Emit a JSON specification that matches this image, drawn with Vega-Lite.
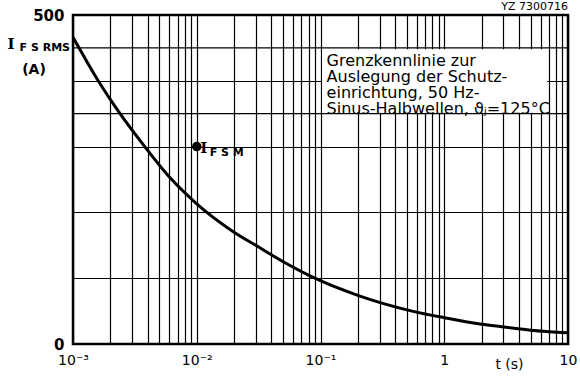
{
  "$schema": "https://vega.github.io/schema/vega-lite/v6.json",
  "width": 495,
  "height": 329,
  "autosize": {"type": "none"},
  "padding": {"left": 73, "top": 15, "right": 12, "bottom": 34},
  "background": "white",
  "config": {
    "view": {"stroke": "black", "strokeWidth": 2.5},
    "font": "DejaVu Sans",
    "axis": {"gridColor": "black", "gridOpacity": 1, "gridWidth": 1.2, "ticks": false, "domain": false,
             "labelColor": "black", "labelFont": "DejaVu Sans", "labelFontSize": 14, "labelFontWeight": "normal"},
    "text": {"color": "black", "clip": false}
  },
  "datasets": {
    "curve": [
      {"t": 0.001, "i": 466},
      {"t": 0.0012, "i": 440},
      {"t": 0.0016, "i": 400},
      {"t": 0.0024, "i": 350},
      {"t": 0.0038, "i": 300},
      {"t": 0.0062, "i": 251},
      {"t": 0.01, "i": 213},
      {"t": 0.02, "i": 170},
      {"t": 0.03, "i": 150},
      {"t": 0.05, "i": 125},
      {"t": 0.09, "i": 100},
      {"t": 0.2, "i": 74},
      {"t": 0.55, "i": 50},
      {"t": 1, "i": 40},
      {"t": 2, "i": 30},
      {"t": 3, "i": 26},
      {"t": 5, "i": 21},
      {"t": 10, "i": 17}
    ]
  },
  "layer": [
    {
      "data": {"values": [{"x1": 0.103, "x2": 6.8, "y1": 351.5, "y2": 448}]},
      "mark": {"type": "rect", "color": "white"},
      "encoding": {
        "x": {"field": "x1", "type": "quantitative",
              "scale": {"type": "log", "domain": [0.001, 10], "nice": false},
              "axis": {
                "values": [0.001,0.002,0.003,0.004,0.005,0.006,0.007,0.008,0.009,0.01,0.02,0.03,0.04,0.05,0.06,0.07,0.08,0.09,0.1,0.2,0.3,0.4,0.5,0.6,0.7,0.8,0.9,1,2,3,4,5,6,7,8,9,10],
                "labelExpr": "datum.value == 0.001 ? '10⁻³' : datum.value == 0.01 ? '10⁻²' : datum.value == 0.1 ? '10⁻¹' : datum.value == 1 ? '1' : datum.value == 10 ? '10' : ''",
                "labelPadding": 9, "labelOverlap": false, "labelFlush": false,
                "title": "t   (s)", "titleX": 436, "titleY": 24, "titleAlign": "center", "titleFontSize": 14, "titleFontWeight": "normal", "titleFont": "DejaVu Sans", "titleColor": "black", "titleBaseline": "alphabetic"
              }},
        "x2": {"field": "x2"},
        "y": {"field": "y1", "type": "quantitative",
              "scale": {"domain": [0, 500], "nice": false},
              "axis": {
                "values": [0,50,100,150,200,250,300,350,400,450,500],
                "labelExpr": "datum.value == 0 || datum.value == 250 || datum.value == 500 ? datum.label : ''",
                "labelPadding": 9, "labelOverlap": false, "labelFontWeight": "bold", "labelFontSize": 15,
                "title": null
              }},
        "y2": {"field": "y2"}
      }
    },
    {
      "data": {"values": [{"v": 350}, {"v": 450}]},
      "mark": {"type": "rule", "color": "black", "strokeWidth": 1.2},
      "encoding": {"y": {"field": "v", "type": "quantitative"}}
    },
    {
      "data": {"name": "curve"},
      "mark": {"type": "line", "color": "black", "strokeWidth": 3, "interpolate": "monotone", "clip": true},
      "encoding": {
        "x": {"field": "t", "type": "quantitative"},
        "y": {"field": "i", "type": "quantitative"}
      }
    },
    {
      "data": {"values": [{"t": 0.01, "i": 300}]},
      "mark": {"type": "point", "filled": true, "color": "black", "size": 90, "opacity": 1},
      "encoding": {
        "x": {"field": "t", "type": "quantitative"},
        "y": {"field": "i", "type": "quantitative"}
      }
    },
    {
      "data": {"values": [{"t": 0.01, "i": 291, "txt": "I"}]},
      "mark": {"type": "text", "align": "center", "baseline": "alphabetic", "dx": 7, "font": "DejaVu Serif", "fontSize": 15, "fontWeight": "bold"},
      "encoding": {"x": {"field": "t", "type": "quantitative"}, "y": {"field": "i", "type": "quantitative"}, "text": {"field": "txt"}}
    },
    {
      "data": {"values": [{"t": 0.01, "i": 285, "txt": "F S M"}]},
      "mark": {"type": "text", "align": "left", "baseline": "alphabetic", "dx": 13, "fontSize": 11, "fontWeight": "bold"},
      "encoding": {"x": {"field": "t", "type": "quantitative"}, "y": {"field": "i", "type": "quantitative"}, "text": {"field": "txt"}}
    },
    {
      "data": {"values": [{"t": 0.001, "i": 448, "txt": "I"}]},
      "mark": {"type": "text", "align": "center", "baseline": "alphabetic", "dx": -62, "font": "DejaVu Serif", "fontSize": 15, "fontWeight": "bold"},
      "encoding": {"x": {"field": "t", "type": "quantitative"}, "y": {"field": "i", "type": "quantitative"}, "text": {"field": "txt"}}
    },
    {
      "data": {"values": [{"t": 0.001, "i": 445, "txt": "F S RMS"}]},
      "mark": {"type": "text", "align": "right", "baseline": "alphabetic", "dx": -3, "fontSize": 11, "fontWeight": "bold"},
      "encoding": {"x": {"field": "t", "type": "quantitative"}, "y": {"field": "i", "type": "quantitative"}, "text": {"field": "txt"}}
    },
    {
      "data": {"values": [{"t": 0.001, "i": 411, "txt": "(A)"}]},
      "mark": {"type": "text", "align": "center", "baseline": "alphabetic", "dx": -39, "fontSize": 14, "fontWeight": "bold"},
      "encoding": {"x": {"field": "t", "type": "quantitative"}, "y": {"field": "i", "type": "quantitative"}, "text": {"field": "txt"}}
    },
    {
      "data": {"values": [{"t": 10, "i": 508, "txt": "YZ 7300716"}]},
      "mark": {"type": "text", "align": "right", "baseline": "alphabetic", "dx": 0, "fontSize": 11},
      "encoding": {"x": {"field": "t", "type": "quantitative"}, "y": {"field": "i", "type": "quantitative"}, "text": {"field": "txt"}}
    },
    {
      "data": {"values": [{"t": 0.112, "i": 443, "txt": ["Grenzkennlinie zur", "Auslegung der Schutz-", "einrichtung, 50 Hz-", "Sinus-Halbwellen, ϑⱼ=125°C"]}]},
      "mark": {"type": "text", "align": "left", "baseline": "top", "fontSize": 16, "lineHeight": 16},
      "encoding": {
        "x": {"field": "t", "type": "quantitative"},
        "y": {"field": "i", "type": "quantitative"},
        "text": {"field": "txt"}
      }
    }
  ]
}
